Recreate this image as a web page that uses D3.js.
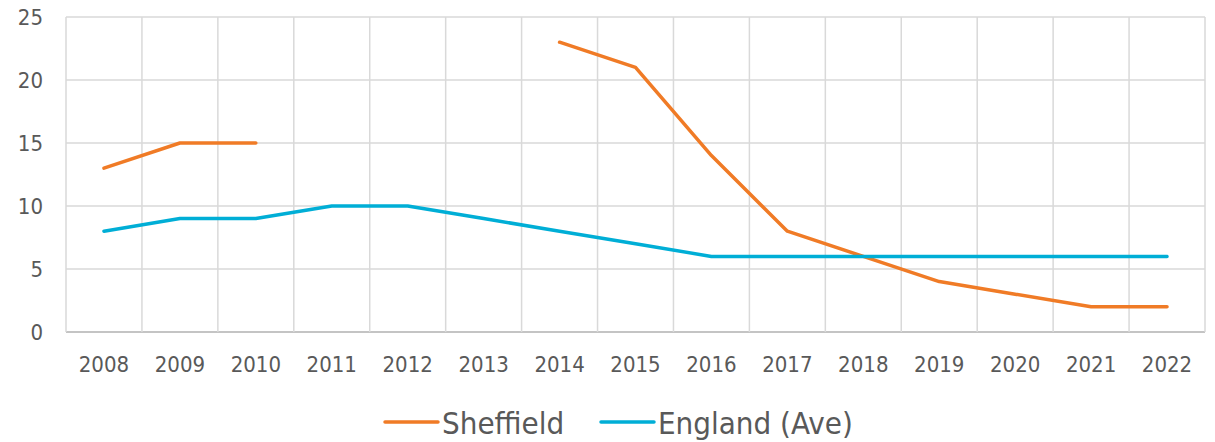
<!DOCTYPE html>
<html><head><meta charset="utf-8">
<script src="https://cdn.jsdelivr.net/npm/d3@7"></script>
<style>body{margin:0;background:#fff}</style>
</head><body>
<svg id="c" width="1215" height="442"></svg>
<script>
const years = ["2008","2009","2010","2011","2012","2013","2014","2015","2016","2017","2018","2019","2020","2021","2022"];
const sheffield = [13,15,15,null,null,null,23,21,14,8,6,4,3,2,2];
const england = [8,9,9,10,10,9,8,7,6,6,6,6,6,6,6];
const yTicks = [0,5,10,15,20,25];
const seriesNames = ["Sheffield","England (Ave)"];
const colors = ["#F07B26","#00AED6"];

(function(){
const svg = d3.select("#c");
const font = "'DejaVu Sans Condensed','DejaVu Sans',sans-serif";
const pL=66,pR=1205,pT=17,pB=332;
const x = d3.scaleBand().domain(years).range([pL,pR]);
const y = d3.scaleLinear().domain([0,25]).range([pB,pT]);

svg.append("g").selectAll("line").data(yTicks).join("line")
 .attr("x1",pL).attr("x2",pR).attr("y1",d=>y(d)).attr("y2",d=>y(d))
 .attr("stroke",d=>d===0?"#c4c4c4":"#d9d9d9").attr("stroke-width",d=>d===0?2:1.5);
const vb = years.map(d=>x(d)).concat([pR]);
svg.append("g").selectAll("line").data(vb).join("line")
 .attr("x1",d=>d).attr("x2",d=>d).attr("y1",pT).attr("y2",pB)
 .attr("stroke","#d9d9d9").attr("stroke-width",1.5);

svg.append("g").selectAll("text").data(yTicks).join("text")
 .attr("x",43).attr("y",d=>y(d)).attr("dy","0.35em").attr("text-anchor","end")
 .attr("font-family",font).attr("font-size",22).attr("fill","#595959").text(d=>d);
svg.append("g").selectAll("text").data(years).join("text")
 .attr("x",d=>x(d)+x.bandwidth()/2).attr("y",372).attr("text-anchor","middle")
 .attr("font-family",font).attr("font-size",22).attr("fill","#595959").text(d=>d);

const line = d3.line().defined(d=>d.v!==null).x(d=>x(d.k)+x.bandwidth()/2).y(d=>y(d.v));
[sheffield,england].forEach((s,i)=>{
  svg.append("path").datum(years.map((k,j)=>({k,v:s[j]})))
   .attr("d",line).attr("fill","none").attr("stroke",colors[i]).attr("stroke-width",3.5)
   .attr("stroke-linejoin","round").attr("stroke-linecap","round");
});

const lg = [{x:385,n:seriesNames[0],c:colors[0]},{x:601,n:seriesNames[1],c:colors[1]}];
lg.forEach(l=>{
  svg.append("line").attr("x1",l.x).attr("x2",l.x+53).attr("y1",422).attr("y2",422)
   .attr("stroke",l.c).attr("stroke-width",3.5).attr("stroke-linecap","round");
  svg.append("text").attr("x",l.x+57).attr("y",423).attr("dy","0.35em")
   .attr("font-family",font).attr("font-size",31).attr("fill","#595959").text(l.n);
});
})();
</script>
</body></html>
